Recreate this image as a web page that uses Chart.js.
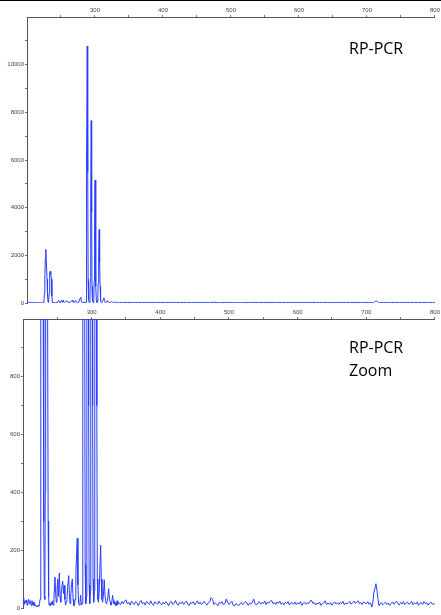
<!DOCTYPE html>
<html><head><meta charset="utf-8">
<script src="https://cdn.jsdelivr.net/npm/chart.js@4"></script>
<style>
html,body{margin:0;padding:0;background:#fff;width:441px;height:615px;overflow:hidden;}
#topbar{position:absolute;left:0;top:0;width:441px;height:1px;background:#000;}
canvas{position:absolute;left:0;}
.note{position:absolute;left:349px;font-family:"Open Sans";font-size:16px;color:#000;white-space:nowrap;}
</style></head><body>
<div id="topbar"></div>
<canvas id="c1" width="441" height="310" style="top:0"></canvas>
<canvas id="c2" width="441" height="310" style="top:305px"></canvas>
<div class="note" style="top:40px;line-height:16px">RP-PCR</div>
<div class="note" style="top:336px;line-height:23px">RP-PCR<br>Zoom</div>
<script>
// fragment size (bp) and signal (RFU)
const earlyBp = [
 200,201,202,203,204,205,206,207,208,209,
 210,211,212,213,214,215,216,217,218,219,
 220,221,222,223,224,224.8,225.6,226.2,227,227.6,
 228.3,229.5,230.2,231,231.8,232.4,233,233.8,234.3,235,
 235.9,236.6,237.3,238,239,240,241,242,243,244,
 245,246.6,247.5,248.5,249.5,250.5,251.5,252.9,254,255,
 256,257.8,259,260,261,262,263,264,265,266.6,
 267.5,268.5,269.5,270.5,271.8,273,274,275,276,277,
 279,280,281,282,283,283.9,285,286,286.9,287.3,
 287.9,288.6,289.3,289.9,290.5,291.4,292.5,293.0,293.7,294.4,
 295.1,295.6,296.3,297.2,298.2,298.7,299.4,300.1,300.8,301.4,
 302.0,302.9,304.1,304.5,305.4,306.1,306.8,307.5,308.2,309,
 310,311,313.1,314,315,316,317,318.3,319.5,321,
 322,323,324.7,326,327,328,329,330.5,332,333,
 334,335,336,337,338,339
];
const earlyRfu = [
 30,35,12,25,18,28,10,22,30,15,
 26,20,8,25,12,20,8,15,10,5,
 8,5,10,6,15,30,400,1000,1900,2250,
 1800,1000,300,40,30,400,1000,1280,1330,1200,
 1000,300,40,10,15,8,20,12,25,10,
 30,107,50,20,60,100,40,121,40,20,
 60,93,50,78,30,10,20,30,70,112,
 50,15,40,80,100,30,8,10,30,120,
 241,80,15,10,20,45,10,15,30,1200,
 6000,10780,5500,1000,150,15,40,900,4200,7650,
 3800,700,80,15,60,900,3000,5150,2600,700,
 100,20,60,800,2000,3080,1700,700,100,30,
 20,60,217,100,30,20,40,98,40,15,
 20,25,67,30,20,10,15,44,15,25,
 10,20,8,25,12,18
];
const lateBp = [
 340,342,344,346,348,350,352,354,356,358,
 360,362,364,366,368,370,372,374,376,378,
 380,382,384,386,388,390,392,394,396,398,
 400,402,404,406,408,410,412,414,416,418,
 420,422,424,426,428,430,432,434,436,438,
 440,442,444,446,448,450,452,454,456,458,
 460,462,464,466,468,470,472,474,476,478,
 480,482,484,486,488,490,492,494,496,498,
 500,502,504,506,508,510,512,514,516,518,
 520,522,524,526,528,530,532,534,536,538,
 540,542,544,546,548,550,552,554,556,558,
 560,562,564,566,568,570,572,574,576,578,
 580,582,584,586,588,590,592,594,596,598,
 600,602,604,606,608,610,612,614,616,618,
 620,622,624,626,628,630,632,634,636,638,
 640,642,644,646,648,650,652,654,656,658,
 660,662,664,666,668,670,672,674,676,678,
 680,682,684,686,688,690,692,694,696,698,
 700,702,704,706,708,709.5,711,712.5,714,715.5,
 717,718.5,
 720,722,724,726,728,730,732,734,736,738,
 740,742,744,746,748,750,752,754,756,758,
 760,762,764,766,768,770,772,774,776,778,
 780,782,784,786,788,790,792,794,796,798,
 800
];
const lateRfu = [
 18,12,22,15,25,28,14,20,10,24,
 16,12,22,18,8,20,26,14,19,10,
 23,17,12,25,15,9,21,18,13,24,
 16,11,20,14,22,17,8,19,23,12,
 16,26,14,10,20,15,22,12,18,24,
 13,9,19,16,22,11,18,25,14,20,
 12,17,23,15,10,19,22,36,30,12,
 18,14,8,20,16,22,11,15,31,20,
 12,18,24,10,7,15,12,8,14,19,
 11,16,22,18,9,17,14,20,31,15,
 10,18,22,13,19,16,24,12,20,17,
 23,26,15,19,12,21,16,24,13,18,
 11,20,15,22,10,17,19,13,21,12,
 18,14,22,9,16,20,13,18,15,24,
 27,16,19,11,17,14,20,9,15,18,
 25,12,17,13,19,10,16,21,14,18,
 12,20,15,23,11,17,14,19,22,13,
 18,24,16,20,25,14,19,12,21,17,
 15,22,13,18,3,20,55,68,84,60,
 30,8,
 14,18,11,16,20,12,17,9,15,21,
 13,18,24,15,11,19,14,22,12,17,
 20,13,16,23,11,18,14,21,9,16,
 19,12,22,15,18,10,17,21,13,16,
 12
];

// axis ticks
const xTickValues = [250,300,350,400,450,500,550,600,650,700,750,800];
const xLabelValues = [300,400,500,600,700,800];
const yTopTicks = [0,1000,2000,3000,4000,5000,6000,7000,8000,9000,10000,11000];
const yTopLabels = [0,2000,4000,6000,8000,10000];
const yZoomTicks = [0,100,200,300,400,500,600,700,800,900];
const yZoomLabels = [0,200,400,600,800];

const bp = earlyBp.concat(lateBp);
const rfu = earlyRfu.concat(lateRfu);
const points = bp.map((x, i) => ({x: x, y: rfu[i]}));

const tickFont = {family: 'Liberation Sans', size: 6};
const tickColor = '#444';
const axisGrid = {drawOnChartArea: false, drawTicks: true, tickLength: 2, color: '#777'};
const axisBorder = {display: true, color: '#555', width: 1};

function panel(id, yMax, yTicks, yLabels, axisH, leftW, padR, padB) {
  new Chart(document.getElementById(id), {
    type: 'line',
    data: {datasets: [{
      data: points,
      borderColor: 'rgb(40,60,255)',
      borderWidth: 1,
      pointRadius: 0,
      tension: 0,
      fill: false
    }]},
    options: {
      responsive: false,
      animation: false,
      parsing: false,
      layout: {padding: {top: 0, left: 0, right: padR, bottom: padB}},
      plugins: {legend: {display: false}, tooltip: {enabled: false}},
      scales: {
        x: {
          type: 'linear', position: 'top', min: 200, max: 800,
          afterBuildTicks: s => { s.ticks = xTickValues.map(v => ({value: v})); },
          afterFit: s => { s.height = axisH; },
          ticks: {autoSkip: false, maxRotation: 0, padding: 1, font: tickFont, color: tickColor,
            callback: v => xLabelValues.includes(v) ? String(v) : ''},
          grid: axisGrid, border: axisBorder
        },
        y: {
          type: 'linear', min: 0, max: yMax,
          afterBuildTicks: s => { s.ticks = yTicks.map(v => ({value: v})); },
          afterFit: s => { s.width = leftW; },
          ticks: {autoSkip: false, padding: 1, font: tickFont, color: tickColor,
            callback: v => yLabels.includes(v) ? String(v) : ''},
          grid: axisGrid, border: axisBorder
        }
      }
    }
  });
}

panel('c1', 12000, yTopTicks, yTopLabels, 17, 27, 4, 7);
panel('c2', 1000, yZoomTicks, yZoomLabels, 14, 23, 5, 7);
</script>
</body></html>
